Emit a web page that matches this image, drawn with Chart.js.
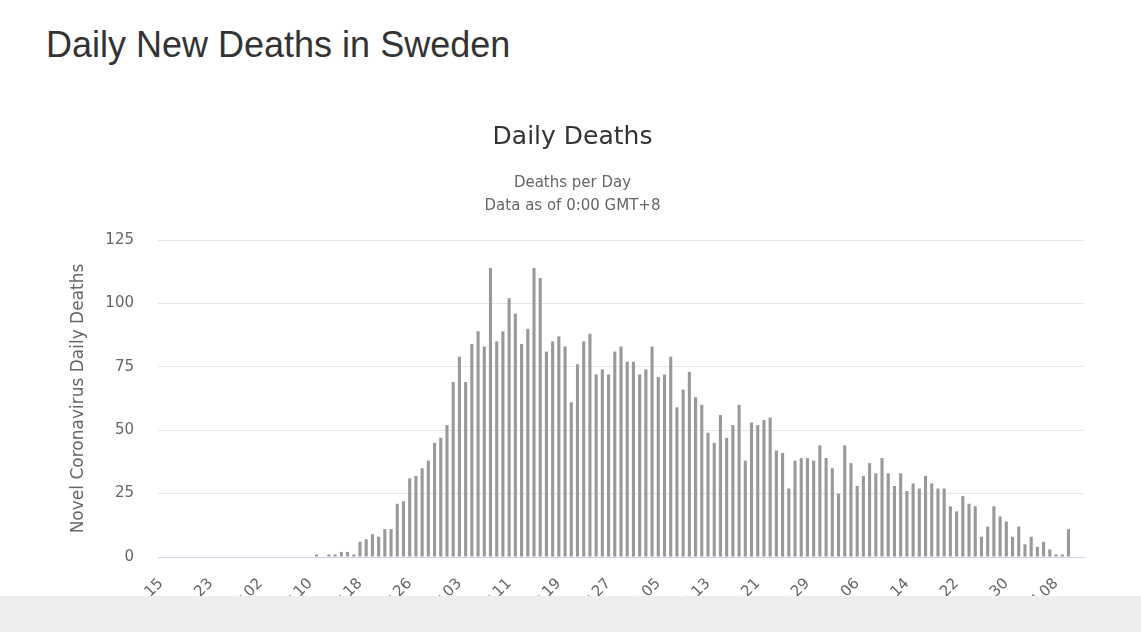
<!DOCTYPE html>
<html>
<head>
<meta charset="utf-8">
<title>Daily New Deaths in Sweden</title>
<script src="https://cdn.jsdelivr.net/npm/chart.js@4.4.1/dist/chart.umd.min.js"></script>
<style>
    html, body { margin: 0; padding: 0; background: #fff; overflow: hidden; }
    body { width: 1141px; height: 632px; position: relative; }
    h1 {
        position: absolute; left: 46px; top: 27px; margin: 0;
        font: 36px/36px 'Liberation Sans', Arial, sans-serif;
        font-weight: normal; color: #333;
    }
    #chart-wrap { position: absolute; left: 0; top: 100px; width: 1141px; height: 532px; }
    #footer-bar { position: absolute; left: 0; top: 596px; width: 1141px; height: 36px; background: #eeeeee; }
</style>
</head>
<body>
<h1>Daily New Deaths in Sweden</h1>
<div id="chart-wrap"><canvas id="deathsChart"></canvas></div>
<div id="footer-bar"></div>

<script>
// categories: one per day, Feb 15 .. Jul 12 (2020)
const dates = [
    'Feb 15', 'Feb 16', 'Feb 17', 'Feb 18', 'Feb 19', 'Feb 20', 'Feb 21', 'Feb 22', 'Feb 23', 'Feb 24',
    'Feb 25', 'Feb 26', 'Feb 27', 'Feb 28', 'Feb 29',
    'Mar 01', 'Mar 02', 'Mar 03', 'Mar 04', 'Mar 05', 'Mar 06', 'Mar 07', 'Mar 08', 'Mar 09', 'Mar 10',
    'Mar 11', 'Mar 12', 'Mar 13', 'Mar 14', 'Mar 15', 'Mar 16', 'Mar 17', 'Mar 18', 'Mar 19', 'Mar 20',
    'Mar 21', 'Mar 22', 'Mar 23', 'Mar 24', 'Mar 25', 'Mar 26', 'Mar 27', 'Mar 28', 'Mar 29', 'Mar 30', 'Mar 31',
    'Apr 01', 'Apr 02', 'Apr 03', 'Apr 04', 'Apr 05', 'Apr 06', 'Apr 07', 'Apr 08', 'Apr 09', 'Apr 10',
    'Apr 11', 'Apr 12', 'Apr 13', 'Apr 14', 'Apr 15', 'Apr 16', 'Apr 17', 'Apr 18', 'Apr 19', 'Apr 20',
    'Apr 21', 'Apr 22', 'Apr 23', 'Apr 24', 'Apr 25', 'Apr 26', 'Apr 27', 'Apr 28', 'Apr 29', 'Apr 30',
    'May 01', 'May 02', 'May 03', 'May 04', 'May 05', 'May 06', 'May 07', 'May 08', 'May 09', 'May 10',
    'May 11', 'May 12', 'May 13', 'May 14', 'May 15', 'May 16', 'May 17', 'May 18', 'May 19', 'May 20',
    'May 21', 'May 22', 'May 23', 'May 24', 'May 25', 'May 26', 'May 27', 'May 28', 'May 29', 'May 30', 'May 31',
    'Jun 01', 'Jun 02', 'Jun 03', 'Jun 04', 'Jun 05', 'Jun 06', 'Jun 07', 'Jun 08', 'Jun 09', 'Jun 10',
    'Jun 11', 'Jun 12', 'Jun 13', 'Jun 14', 'Jun 15', 'Jun 16', 'Jun 17', 'Jun 18', 'Jun 19', 'Jun 20',
    'Jun 21', 'Jun 22', 'Jun 23', 'Jun 24', 'Jun 25', 'Jun 26', 'Jun 27', 'Jun 28', 'Jun 29', 'Jun 30',
    'Jul 01', 'Jul 02', 'Jul 03', 'Jul 04', 'Jul 05', 'Jul 06', 'Jul 07', 'Jul 08', 'Jul 09', 'Jul 10',
    'Jul 11', 'Jul 12'
];

// daily deaths, same order as dates
const dailyDeaths = [
    0, 0, 0, 0, 0, 0, 0, 0, 0, 0, 0, 0, 0, 0, 0,
    0, 0, 0, 0, 0, 0, 0, 0, 0, 0,
    1, 0, 1, 1, 2, 2, 1, 6, 7, 9, 8, 11, 11, 21, 22, 31, 32, 35, 38, 45, 47,
    52, 69, 79, 69, 84, 89, 83, 114, 85, 89, 102, 96, 84, 90, 114, 110, 81, 85, 87, 83,
    61, 76, 85, 88, 72, 74, 72, 81, 83, 77,
    77, 72, 74, 83, 71, 72, 79, 59, 66, 73, 63, 60, 49, 45, 56, 47, 52, 60, 38, 53,
    52, 54, 55, 42, 41, 27, 38, 39, 39, 38, 44,
    39, 35, 25, 44, 37, 28, 32, 37, 33, 39, 33, 28, 33, 26, 29, 27, 32, 29, 27, 27,
    20, 18, 24, 21, 20, 8, 12, 20, 16, 14,
    8, 12, 5, 8, 4, 6, 3, 1, 1, 11, null, null
];

// axis settings
const yTicks = [0, 25, 50, 75, 100, 125];
const xLabelStep = 8;

document.addEventListener('DOMContentLoaded', () => {
    const ctx = document.getElementById('deathsChart').getContext('2d');
    const chartFont = "'DejaVu Sans', Verdana, sans-serif";

    new Chart(ctx, {
        type: 'bar',
        data: {
            labels: dates,
            datasets: [{
                label: 'Daily Deaths',
                data: dailyDeaths,
                backgroundColor: '#999999',
                borderWidth: 0,
                barPercentage: 0.5,
                categoryPercentage: 1.0
            }]
        },
        options: {
            responsive: true,
            maintainAspectRatio: false,
            animation: false,
            // left/right padding keeps the titles centred the way the original is
            layout: { padding: { left: 61, right: 57, top: 0, bottom: 0 } },
            plugins: {
                legend: { display: false },
                tooltip: { enabled: false },
                title: {
                    display: true,
                    text: 'Daily Deaths',
                    color: '#333333',
                    font: { family: chartFont, size: 25, weight: 'normal', lineHeight: 1.2 },
                    padding: { top: 22, bottom: 20 }
                },
                subtitle: {
                    display: true,
                    text: ['Deaths per Day', 'Data as of 0:00 GMT+8'],
                    color: '#666666',
                    font: { family: chartFont, size: 15, weight: 'normal', lineHeight: 1.5 },
                    padding: { top: 0, bottom: 23 }
                }
            },
            scales: {
                x: {
                    grid: { display: false, drawTicks: false },
                    border: { display: true, color: '#ccd6eb', width: 1 },
                    ticks: {
                        autoSkip: false,
                        minRotation: 45,
                        maxRotation: 45,
                        padding: 18,
                        color: '#666666',
                        font: { family: chartFont, size: 15 }
                    },
                    afterBuildTicks: (scale) => {
                        scale.ticks = scale.ticks.filter(t => t.value % xLabelStep === 0);
                    },
                    afterFit: (scale) => { scale.height = 75; }
                },
                y: {
                    min: yTicks[0],
                    max: yTicks[yTicks.length - 1],
                    grid: { color: '#e6e6e6', drawTicks: false },
                    border: { display: false },
                    ticks: {
                        stepSize: 25,
                        padding: 24,
                        color: '#666666',
                        font: { family: chartFont, size: 15 }
                    },
                    afterBuildTicks: (scale) => {
                        scale.ticks = yTicks.map(v => ({ value: v }));
                    },
                    title: {
                        display: true,
                        text: 'Novel Coronavirus Daily Deaths',
                        color: '#666666',
                        font: { family: chartFont, size: 17, weight: 'normal', lineHeight: 1.2 },
                        padding: { top: 7, bottom: 0 }
                    },
                    afterFit: (scale) => { scale.width = 97; }
                }
            }
        }
    });
});
</script>
</body>
</html>
